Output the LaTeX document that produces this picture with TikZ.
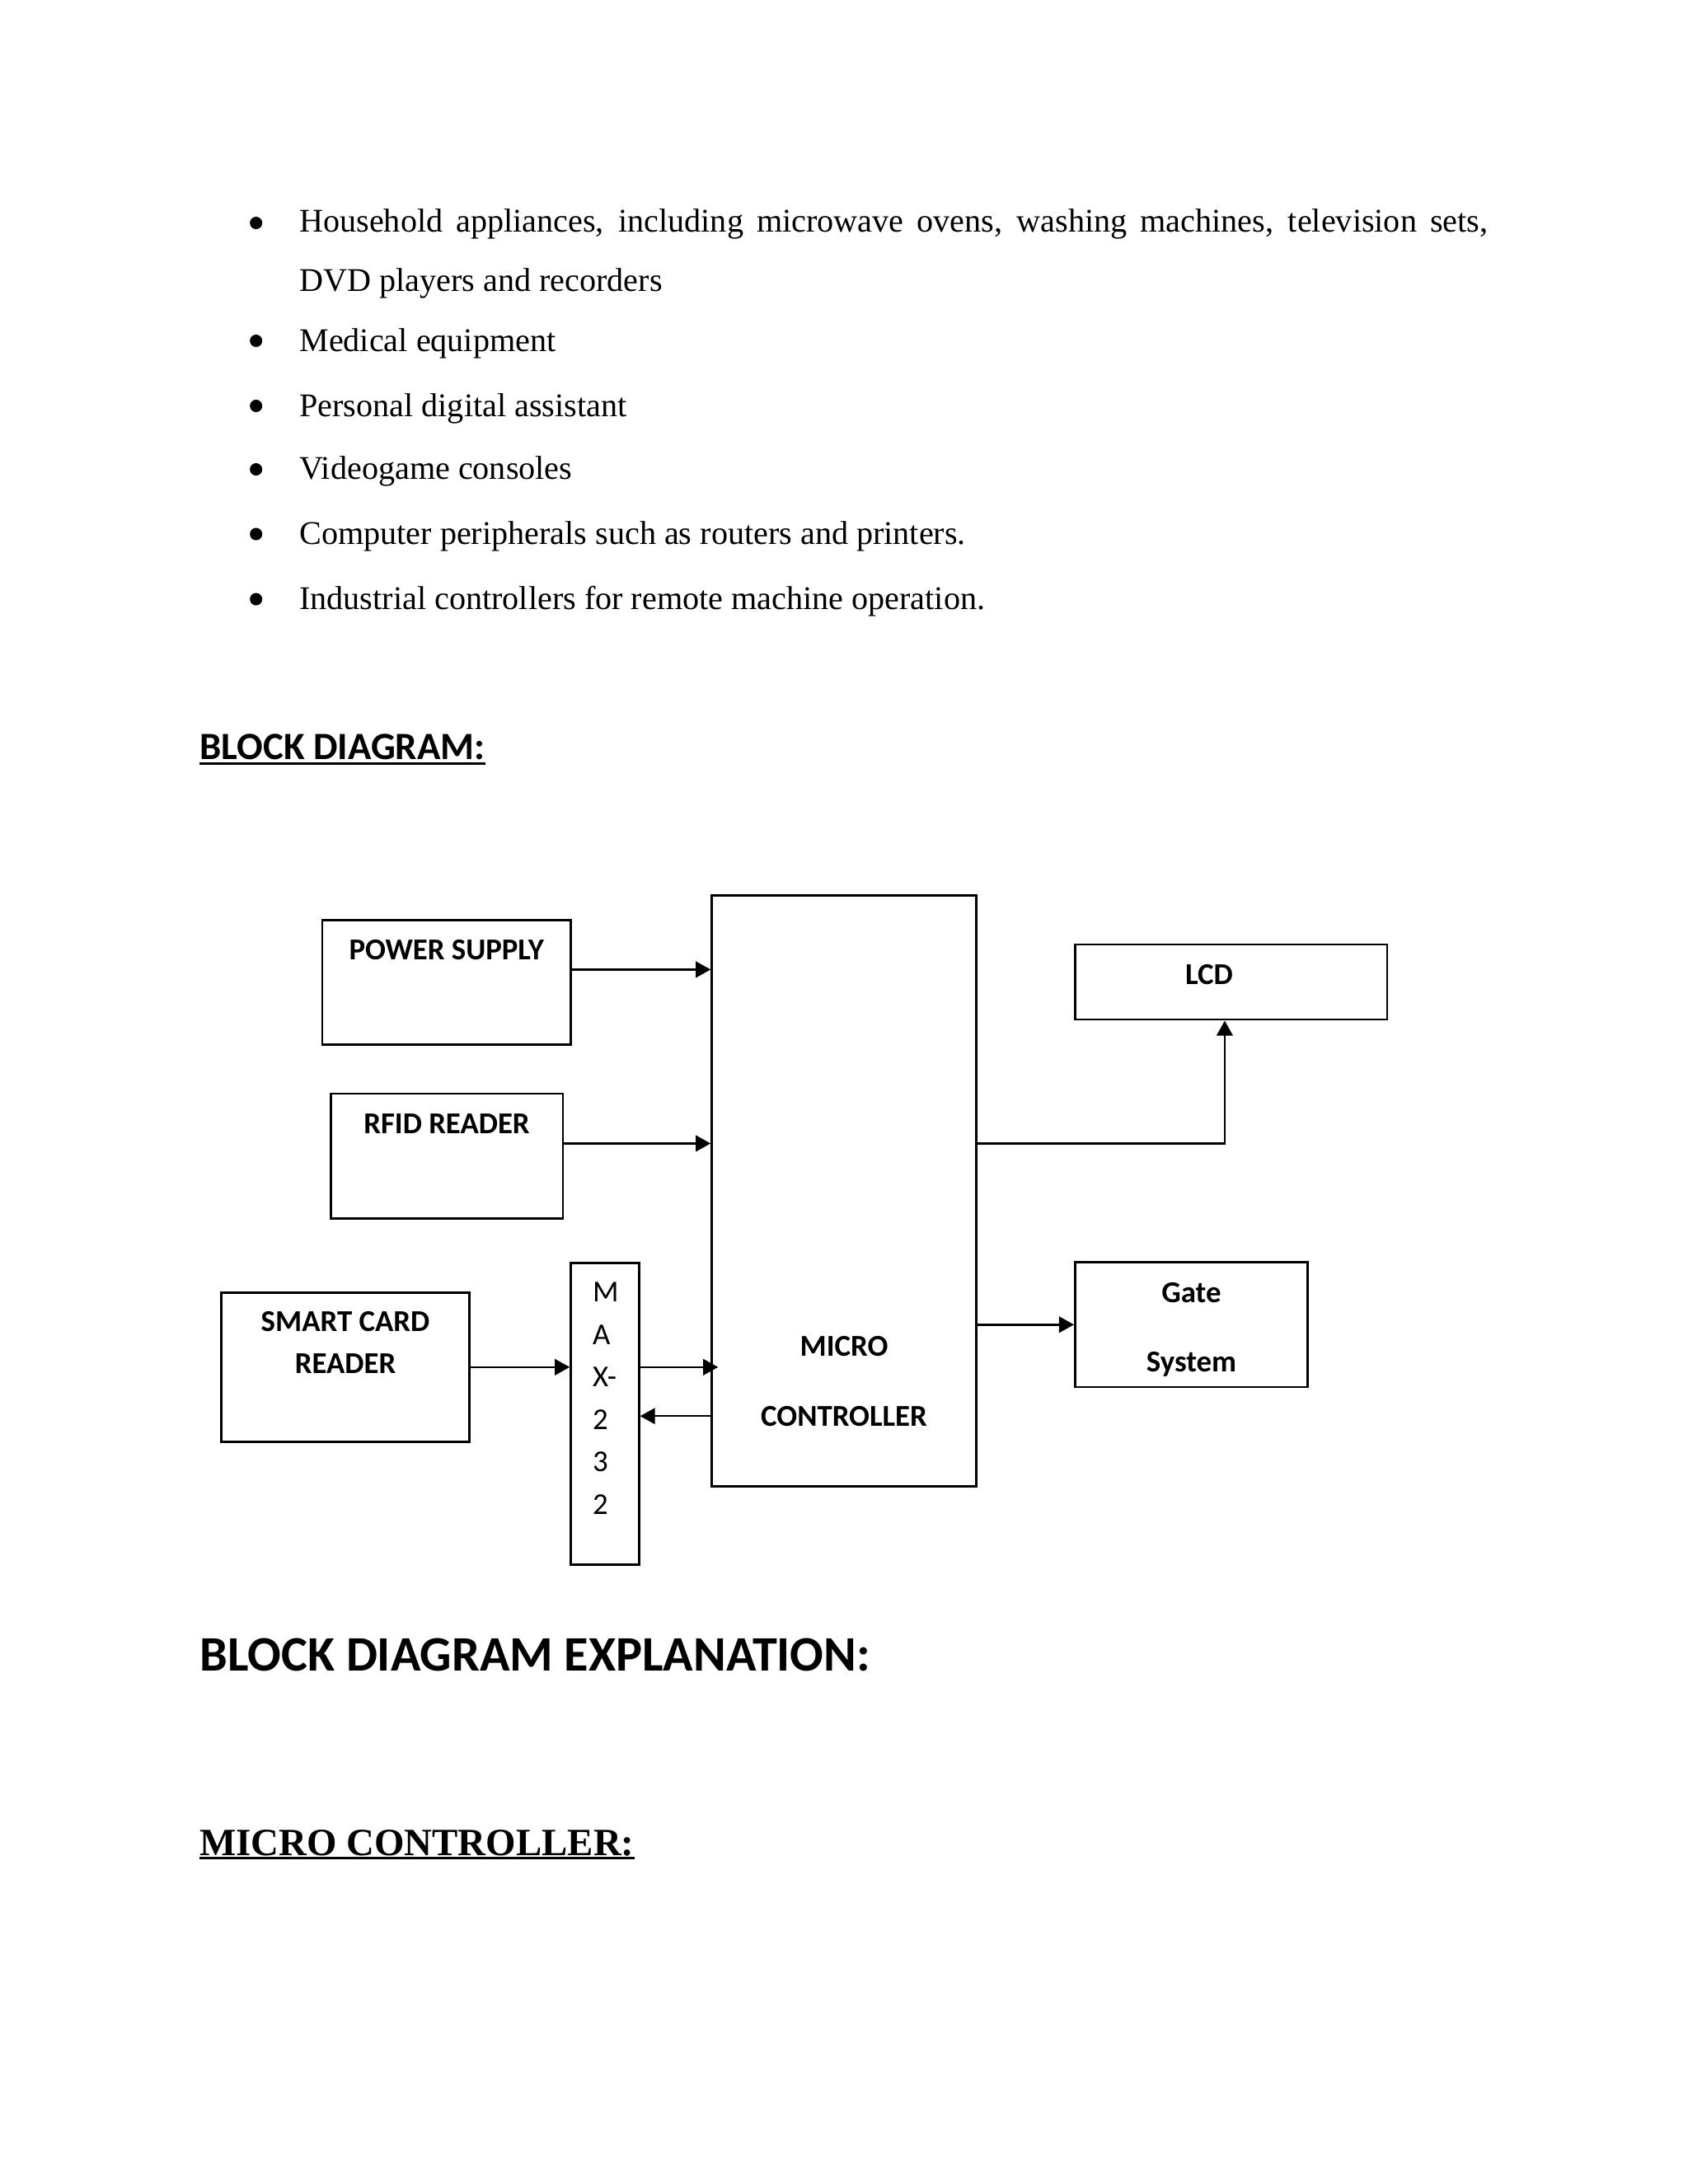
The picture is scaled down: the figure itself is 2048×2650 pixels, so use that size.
\documentclass[tikz,border=0pt]{standalone}
\usepackage{fontspec}
\setmainfont{Liberation Serif}
\newfontfamily\calibri{Carlito}
\usetikzlibrary{arrows.meta,fit,calc}
\tikzset{
  box/.style={draw, line width=0.75pt, inner sep=0pt, rectangle},
  lbl/.style={inner sep=0pt, anchor=base, font=\calibri\bfseries\fontsize{11}{13}\selectfont},
  maxl/.style={inner sep=0pt, anchor=base west, font=\calibri\fontsize{11}{13}\selectfont},
  body/.style={inner sep=0pt, anchor=base west, font=\fontsize{12}{14}\selectfont},
  bul/.style={circle, fill=black, inner sep=0pt, minimum width=4.5pt, minimum height=4.5pt},
  arr/.style={line width=0.75pt, -{Triangle[length=5.4pt,width=5.8pt]}},
}
\begin{document}
\begin{tikzpicture}[x=0.29883pt, y=-0.29883pt]
\useasboundingbox (0,0) rectangle (2048,2650);
% bullet list
\node[bul] (b1) at (310.7,270.5) {};
\node[body] (t1) at (362.7,281.7) {\makebox[430.9pt][s]{Household appliances, including microwave ovens, washing machines, television sets,}};
\node[body] (t2) at (362.7,353.3) {DVD players and recorders};
\node[bul] (b3) at (310.7,413.5) {};
\node[body] (t3) at (362.7,426) {Medical equipment};
\node[bul] (b4) at (310.7,492.5) {};
\node[body] (t4) at (362.7,505) {Personal digital assistant};
\node[bul] (b5) at (310.7,569.5) {};
\node[body] (t5) at (362.7,581.7) {Videogame consoles};
\node[bul] (b6) at (310.7,648) {};
\node[body] (t6) at (362.7,660) {Computer peripherals such as routers and printers.};
\node[bul] (b7) at (310.7,727) {};
\node[body] (t7) at (362.7,739.3) {Industrial controllers for remote machine operation.};
% headings
\node[inner sep=0pt, anchor=base west, font=\calibri\bfseries\fontsize{14}{16}\selectfont] (h1) at (241.6,921.7) {BLOCK DIAGRAM:};
\draw[line width=0.9pt] ([yshift=-1.5pt]h1.base west) -- ([yshift=-1.5pt]h1.base east);
\node[inner sep=0pt, anchor=base west, font=\calibri\bfseries\fontsize{18}{20}\selectfont] (h2) at (242,2027.3) {BLOCK DIAGRAM EXPLANATION:};
\node[inner sep=0pt, anchor=base west, font=\bfseries\fontsize{14}{16}\selectfont] (h3) at (241.7,2251) {MICRO CONTROLLER:};
\draw[line width=0.8pt] ([yshift=-1.1pt]h3.base west) -- ([yshift=-1.1pt]h3.base east);
% boxes
\node[box, fit={(390.8,1116.7) (692.7,1267.3)}] (ps) {};
\node[box, fit={(401.3,1327) (683,1478.3)}] (rfid) {};
\node[box, fit={(268.4,1568.3) (569.7,1749.3)}] (sc) {};
\node[box, fit={(692.5,1532.3) (775.4,1898.3)}] (max) {};
\node[box, fit={(863.5,1086.3) (1184.6,1803.3)}] (mc) {};
\node[box, fit={(1304.3,1146) (1682.8,1237.2)}] (lcd) {};
\node[box, fit={(1304.3,1531.5) (1586.7,1683)}] (gate) {};
% labels
\node[lbl] (psl) at (541.75,1164.3) {POWER SUPPLY};
\node[lbl] (rfidl) at (542,1375) {RFID READER};
\node[lbl] (scl1) at (419,1615.3) {SMART CARD};
\node[lbl] (scl2) at (419,1666.7) {READER};
\node[lbl] (mcl1) at (1024,1645) {MICRO};
\node[lbl] (mcl2) at (1024,1730) {CONTROLLER};
\node[lbl] (lcdl) at (1466.9,1194.7) {LCD};
\node[lbl] (gl1) at (1445.5,1580.2) {Gate};
\node[lbl] (gl2) at (1445.5,1664.4) {System};
\node[maxl] (m1) at (718.5,1579.3) {M};
\node[maxl] (m2) at (718.5,1631.7) {A};
\node[maxl] (m3) at (718.5,1682.7) {X-};
\node[maxl] (m4) at (718.5,1734) {2};
\node[maxl] (m5) at (718.5,1785.7) {3};
\node[maxl] (m6) at (718.5,1837.3) {2};
% connectors
\coordinate (a1) at ($(ps.north east)!0.398!(ps.south east)$);
\coordinate (a2) at ($(rfid.north east)!0.401!(rfid.south east)$);
\coordinate (a3) at ($(mc.north west)!0.880!(mc.south west)$);
\coordinate (a4) at ($(lcd.south west)!0.48!(lcd.south east)$);
\draw[arr] (a1) -- (a1 -| mc.west);
\draw[arr] (a2) -- (a2 -| mc.west);
\draw[arr] (sc.east) -- (sc.east -| max.west);
\draw[arr, shorten >=-2.7pt] (sc.east -| max.east) -- (sc.east -| mc.west);
\draw[arr] (a3) -- (a3 -| max.east);
\draw[arr] (a2 -| mc.east) -| (a4);
\draw[arr] (gate.west -| mc.east) -- (gate.west);
\end{tikzpicture}
\end{document}
